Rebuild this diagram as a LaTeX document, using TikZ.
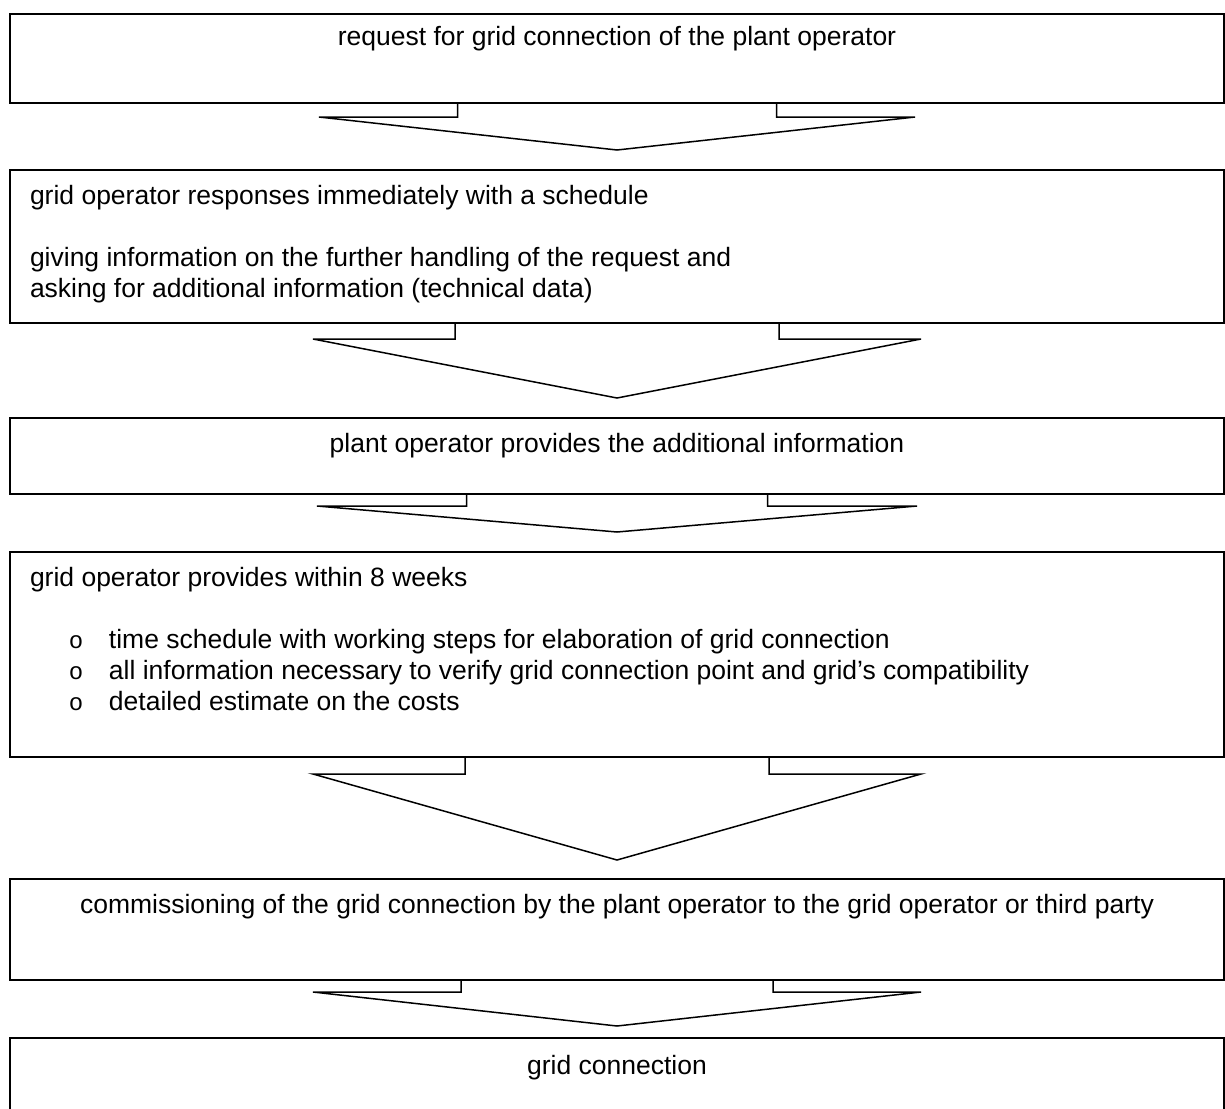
\documentclass[tikz,border=0pt]{standalone}
\usepackage{fontspec}
\setmainfont{Liberation Sans}
\newfontfamily\bulletfont{Liberation Mono}
\usepackage{tikz}
\usetikzlibrary{calc}
\usetikzlibrary{positioning}
\tikzset{%
  stepbox/.style={rectangle,draw=black,line width=1pt,minimum width=607pt,inner sep=0pt,outer sep=0pt,anchor=north west}
}
\tikzset{%
  steptext/.style={inner sep=0pt,outer sep=0pt,font=\fontsize{13.25}{15.5}\selectfont}
}
\tikzset{%
  arrowbody/.style={draw=black,line width=0.75pt,line join=miter}
}
\newcommand{\bulletitem}[1]{\hspace*{19.5pt}\makebox[20pt][l]{\bulletfont\fontsize{12}{12}\selectfont o}#1}
\newcommand{\flowarrow}[6]{%
  \draw[arrowbody] ($(#1.south)+(-#3,0)$) -- ++(0,#4) -- ++({#3-#5},0)
    -- ($(#2.north)+(0,-#6)$) -- ($(#1.south)+(#5,#4)$) -- ++({#3-#5},0) -- ++(0,-#4);}

\begin{document}
\begin{tikzpicture}[x=0.5pt,y=-0.5pt]
            \useasboundingbox (0,0) rectangle (1225,1108);
            \fill[white] (0,0) rectangle (1225,1108);

            \node[stepbox,minimum height=44.5pt](box1) at (10,14) {};
            \node[stepbox,minimum height=76.5pt](box2) at (10,170) {};
            \node[stepbox,minimum height=38pt](box3) at (10,418) {};
            \node[stepbox,minimum height=102.5pt](box4) at (10,552) {};
            \node[stepbox,minimum height=50.5pt](box5) at (10,879) {};
            \node[stepbox,minimum height=53.5pt](box6) at (10,1038) {};

            \node[steptext,anchor=base](text1) at ($(box1.north)+(0,31)$) {request for grid connection of the plant operator};
            \node[steptext,anchor=north west,align=left](text2) at ($(box2.north west)+(20,15)$) {grid operator responses immediately with a schedule\\[15.5pt]
                giving information on the further handling of the request and\\
                asking for additional information (technical data)};
            \node[steptext,anchor=base](text3) at ($(box3.north)+(0,34)$) {plant operator provides the additional information};
            \node[steptext,anchor=north west,align=left](text4) at ($(box4.north west)+(20,15)$) {grid operator provides within 8 weeks\\[15.5pt]
                \bulletitem{time schedule with working steps for elaboration of grid connection}\\
                \bulletitem{all information necessary to verify grid connection point and grid’s compatibility}\\
                \bulletitem{detailed estimate on the costs}};
            \node[steptext,anchor=base](text5) at ($(box5.north)+(0,34)$) {commissioning of the grid connection by the plant operator to the grid operator or third party};
            \node[steptext,anchor=base](text6) at ($(box6.north)+(0,36)$) {grid connection};

            \flowarrow{box1}{box2}{159.5}{14}{298}{20}
            \flowarrow{box2}{box3}{162}{16}{304}{20}
            \flowarrow{box3}{box4}{150.5}{12}{300}{20}
            \flowarrow{box4}{box5}{152}{17}{304}{19}
            \flowarrow{box5}{box6}{156}{12}{304}{12}
        \end{tikzpicture}
\end{document}
